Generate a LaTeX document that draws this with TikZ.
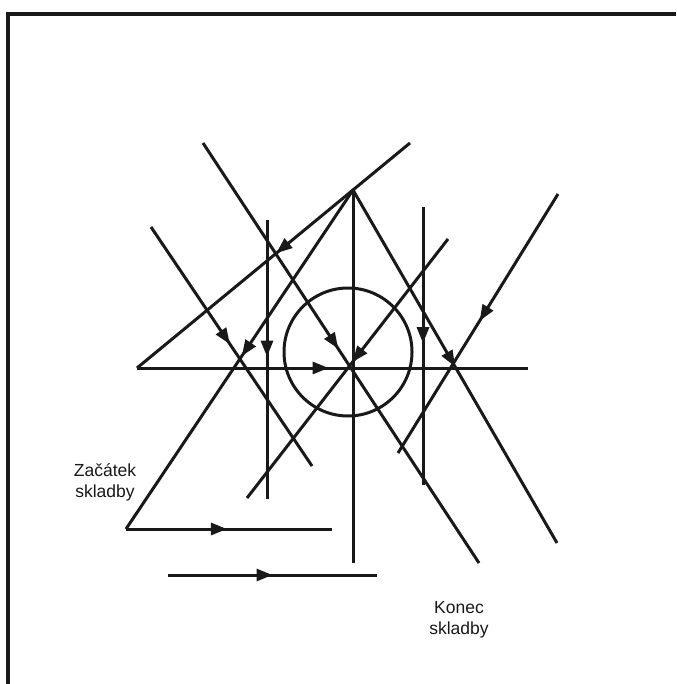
\documentclass[tikz,border=0pt]{standalone}
\usepackage{fontspec}
\setmainfont{Liberation Sans}
\usetikzlibrary{arrows.meta,decorations.markings}
\begin{document}
\begin{tikzpicture}[x=1pt,y=-1pt,
  ln/.style={line width=3pt,line cap=butt,draw=black!90},
  midarrow/.style={postaction={decorate},decoration={markings,
     mark=at position #1 with {\arrow{Triangle[length=16pt,width=12pt]}}}},
  lbl/.style={font=\fontsize{17.5}{21}\selectfont,align=center,inner sep=0pt,text=black!90}]
\useasboundingbox (0,0) rectangle (676,684);
% frame
\coordinate (fbl) at (8,684);
\coordinate (ftl) at (8,14);
\coordinate (ftr) at (676,14);
\draw[line width=3.5pt,black!90] (fbl) -- (ftl) -- (ftr);
% points
\coordinate (hl) at (137,368);
\coordinate (hr) at (528,368);
\coordinate (tr) at (410,143);
\coordinate (apex) at (353,190);
\coordinate (vb) at (353,563);
\coordinate (bl) at (126,529);
\coordinate (br) at (332,529);
\coordinate (ar) at (557,543);
\coordinate (gt) at (558,194);
\coordinate (gb) at (398,453);
\coordinate (ht) at (448,239);
\coordinate (hb) at (247,498);
\coordinate (it) at (423,207);
\coordinate (ib) at (423,485);
\coordinate (jt) at (267,220);
\coordinate (jb) at (267,499);
\coordinate (kt) at (203,143);
\coordinate (kb) at (479,563);
\coordinate (lt) at (151,227);
\coordinate (lb) at (312,466);
\coordinate (ml) at (168,575);
\coordinate (mr) at (377,575);
% circle
\draw[ln] (348,352) circle[radius=64];
% lines
\draw[ln,midarrow=0.49] (hl) -- (hr);
\draw[ln,midarrow=0.49] (tr) -- (hl);
\draw[ln] (apex) -- (vb);
\draw[ln,midarrow=0.49] (apex) -- (bl);
\draw[ln,midarrow=0.49] (bl) -- (br);
\draw[ln,midarrow=0.50] (apex) -- (ar);
\draw[ln,midarrow=0.49] (gt) -- (gb);
\draw[ln,midarrow=0.475] (ht) -- (hb);
\draw[ln,midarrow=0.49] (it) -- (ib);
\draw[ln,midarrow=0.49] (jt) -- (jb);
\draw[ln,midarrow=0.49] (kt) -- (kb);
\draw[ln,midarrow=0.49] (lt) -- (lb);
\draw[ln,midarrow=0.50] (ml) -- (mr);
% labels
\node[lbl] (start) at (105,482) {Začátek\\skladby};
\node[lbl] (end) at (459,620) {Konec\\skladby};
\end{tikzpicture}
\end{document}
